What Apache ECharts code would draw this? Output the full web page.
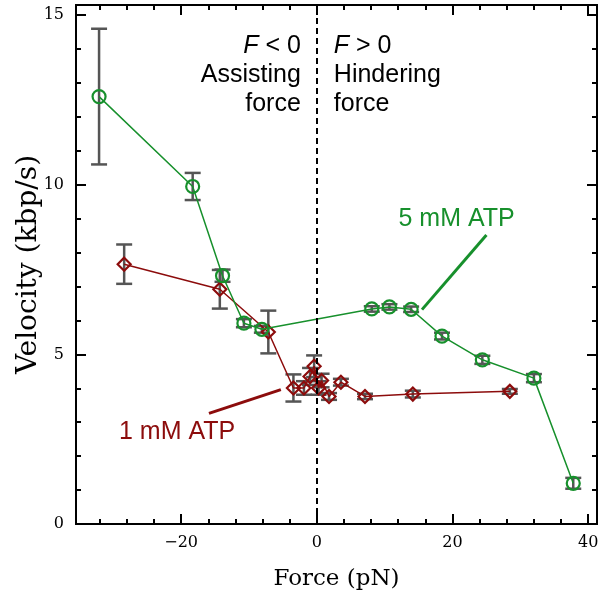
<!DOCTYPE html>
<html>
<head>
<meta charset="utf-8">
<script src="https://cdn.jsdelivr.net/npm/echarts@6/dist/echarts.min.js"></script>
<style>
  html, body { margin: 0; padding: 0; background: #fff; }
  #chart { width: 600px; height: 590px; }
</style>
</head>
<body>
<div id="chart"></div>
<script>
// 5 mM ATP (green circles)
const greenForce = [-32.1, -18.3, -13.9, -10.75, -8.1, 8.1, 10.7, 13.9, 18.45, 24.4, 32.0, 37.8];
const greenVel   = [12.6, 9.95, 7.32, 5.92, 5.74, 6.34, 6.4, 6.33, 5.54, 4.84, 4.3, 1.2];
const greenErr   = [2.0, 0.4, 0.18, 0.12, 0.1, 0.08, 0.08, 0.08, 0.1, 0.12, 0.12, 0.16];

// 1 mM ATP (red diamonds)
const redForce = [-28.4, -14.3, -7.15, -3.45, -1.9, -1.0, -0.4, 0.25, 0.7, 1.8, 3.55, 7.1, 14.15, 28.45];
const redVel   = [7.66, 6.92, 5.66, 4.01, 4.01, 4.35, 4.65, 4.01, 4.23, 3.76, 4.18, 3.76, 3.83, 3.91];
const redErr   = [0.58, 0.57, 0.63, 0.4, 0.2, 0.25, 0.32, 0.2, 0.2, 0.1, 0.1, 0.08, 0.1, 0.07];

const xMajor = [-20, 0, 20, 40];
const xMinor = [-32, -28, -24, -16, -12, -8, -4, 4, 8, 12, 16, 24, 28, 32, 36];

const GREEN = '#17902c';
const RED = '#8c0c0c';
const ERR = '#555555';
const tickFont = 'DejaVu Serif';
const textFont = '"Liberation Sans", Arial, sans-serif';

const chart = echarts.init(document.getElementById('chart'));

function zip(xs, ys, es) {
  return xs.map((x, i) => es ? [x, ys[i], es[i]] : [x, ys[i]]);
}

function errorBars(params, api) {
  const x = api.value(0), y = api.value(1), e = api.value(2);
  const top = api.coord([x, y + e]);
  const bot = api.coord([x, y - e]);
  const hw = 8;
  const st = { stroke: ERR, lineWidth: 2.5 };
  return {
    type: 'group',
    children: [
      { type: 'line', shape: { x1: top[0], y1: top[1], x2: bot[0], y2: bot[1] }, style: st },
      { type: 'line', shape: { x1: top[0] - hw, y1: top[1], x2: top[0] + hw, y2: top[1] }, style: st },
      { type: 'line', shape: { x1: bot[0] - hw, y1: bot[1], x2: bot[0] + hw, y2: bot[1] }, style: st }
    ]
  };
}

const axisLine = { show: true, onZero: false, lineStyle: { color: '#000', width: 2 } };

function xAxisDef(pos, ticks, len, labels) {
  return {
    type: 'value', position: pos, min: -35.5, max: 41.3,
    axisLine: axisLine,
    splitLine: { show: false },
    axisTick: { show: true, inside: true, length: len, customValues: ticks, lineStyle: { color: '#000', width: 2 } },
    axisLabel: labels ? { show: true, customValues: xMajor, color: '#000', fontFamily: tickFont, fontSize: 16, margin: 11,
      formatter: v => (v < 0 ? '\u2212' + (-v) : String(v)) } : { show: false }
  };
}

function yAxisDef(pos, labels) {
  return {
    type: 'value', position: pos, min: 0, max: 15.3, interval: 5,
    axisLine: axisLine,
    splitLine: { show: false },
    axisTick: { show: true, inside: true, length: 10, lineStyle: { color: '#000', width: 2 } },
    minorTick: { show: true, splitNumber: 5, length: 5, lineStyle: { color: '#000', width: 2 } },
    axisLabel: labels ? { show: true, color: '#000', fontFamily: tickFont, fontSize: 16, margin: 12, showMaxLabel: false } : { show: false }
  };
}

const xAxes = [
  Object.assign(xAxisDef('bottom', xMajor, 10, true), {
    name: 'Force (pN)', nameLocation: 'middle', nameGap: 44, nameMoveOverlap: false,
    nameTextStyle: { fontFamily: tickFont, fontSize: 23, color: '#000' }
  }),
  xAxisDef('bottom', xMinor, 5, false),
  xAxisDef('top', xMajor, 10, false),
  xAxisDef('top', xMinor, 5, false)
];
const yAxes = [
  Object.assign(yAxisDef('left', true), {
    name: 'Velocity (kbp/s)', nameLocation: 'middle', nameGap: 33, nameMoveOverlap: false,
    nameTextStyle: { fontFamily: tickFont, fontSize: 28, color: '#000' }
  }),
  yAxisDef('right', false)
];

const option = {
  animation: false,
  backgroundColor: '#fff',
  grid: { left: 76, right: 3, top: 5, bottom: 66, outerBoundsMode: 'none', containLabel: false },
  xAxis: xAxes,
  yAxis: yAxes,
  series: [
    {
      type: 'custom', name: 'err5', renderItem: errorBars, z: 1,
      data: zip(greenForce, greenVel, greenErr)
    },
    {
      type: 'custom', name: 'err1', renderItem: errorBars, z: 1,
      data: zip(redForce, redVel, redErr)
    },
    {
      type: 'line', name: '1 mM ATP', z: 3,
      data: zip(redForce, redVel),
      symbol: 'diamond', symbolSize: 13,
      lineStyle: { color: RED, width: 1.5 },
      itemStyle: { color: 'rgba(0,0,0,0)', borderColor: RED, borderWidth: 2.2 },
      markLine: {
        silent: true, symbol: 'none', label: { show: false },
        lineStyle: { color: RED, width: 3, type: 'solid' },
        data: [[{ coord: [-15.9, 3.26] }, { coord: [-5.3, 3.96] }]]
      }
    },
    {
      type: 'line', name: '5 mM ATP', z: 4,
      data: zip(greenForce, greenVel),
      symbol: 'circle', symbolSize: 13,
      lineStyle: { color: GREEN, width: 1.5 },
      itemStyle: { color: 'rgba(0,0,0,0)', borderColor: GREEN, borderWidth: 2.2 },
      markLine: {
        silent: true, symbol: 'none', label: { show: false },
        lineStyle: { color: GREEN, width: 3, type: 'solid' },
        data: [
          [{ coord: [25.0, 8.52] }, { coord: [15.5, 6.32] }]
        ]
      }
    },
    {
      type: 'line', name: 'zero', data: [], z: 0,
      markLine: {
        silent: true, symbol: 'none', label: { show: false },
        lineStyle: { color: '#000', width: 2, type: [6, 4] },
        data: [{ xAxis: 0 }]
      }
    }
  ]
};

chart.setOption(option);

// text annotations placed from data coordinates
const p5 = chart.convertToPixel({ xAxisIndex: 0, yAxisIndex: 0 }, [20.6, 9.0]);
const p1 = chart.convertToPixel({ xAxisIndex: 0, yAxisIndex: 0 }, [-20.6, 2.72]);
const p0 = chart.convertToPixel({ xAxisIndex: 0, yAxisIndex: 0 }, [0, 13.3]);

const rich = {
  i: { fontStyle: 'italic', fontFamily: textFont, fontSize: 25, lineHeight: 29 },
  n: { fontFamily: textFont, fontSize: 25, lineHeight: 29 }
};

chart.setOption({
  graphic: [
    {
      type: 'text', x: p5[0], y: p5[1],
      style: { text: '5 mM ATP', fill: GREEN, font: '25px ' + textFont, align: 'center', verticalAlign: 'middle' }
    },
    {
      type: 'text', x: p1[0], y: p1[1],
      style: { text: '1 mM ATP', fill: RED, font: '25px ' + textFont, align: 'center', verticalAlign: 'middle' }
    },
    {
      type: 'text', x: p0[0] - 16, y: 32,
      style: {
        text: '{i|F}{n| < 0}\n{n|Assisting}\n{n|force}', fill: '#000', align: 'right', verticalAlign: 'top',
        rich: rich
      }
    },
    {
      type: 'text', x: p0[0] + 17, y: 32,
      style: {
        text: '{i|F}{n| > 0}\n{n|Hindering}\n{n|force}', fill: '#000', align: 'left', verticalAlign: 'top',
        rich: rich
      }
    }
  ]
});
</script>
</body>
</html>
